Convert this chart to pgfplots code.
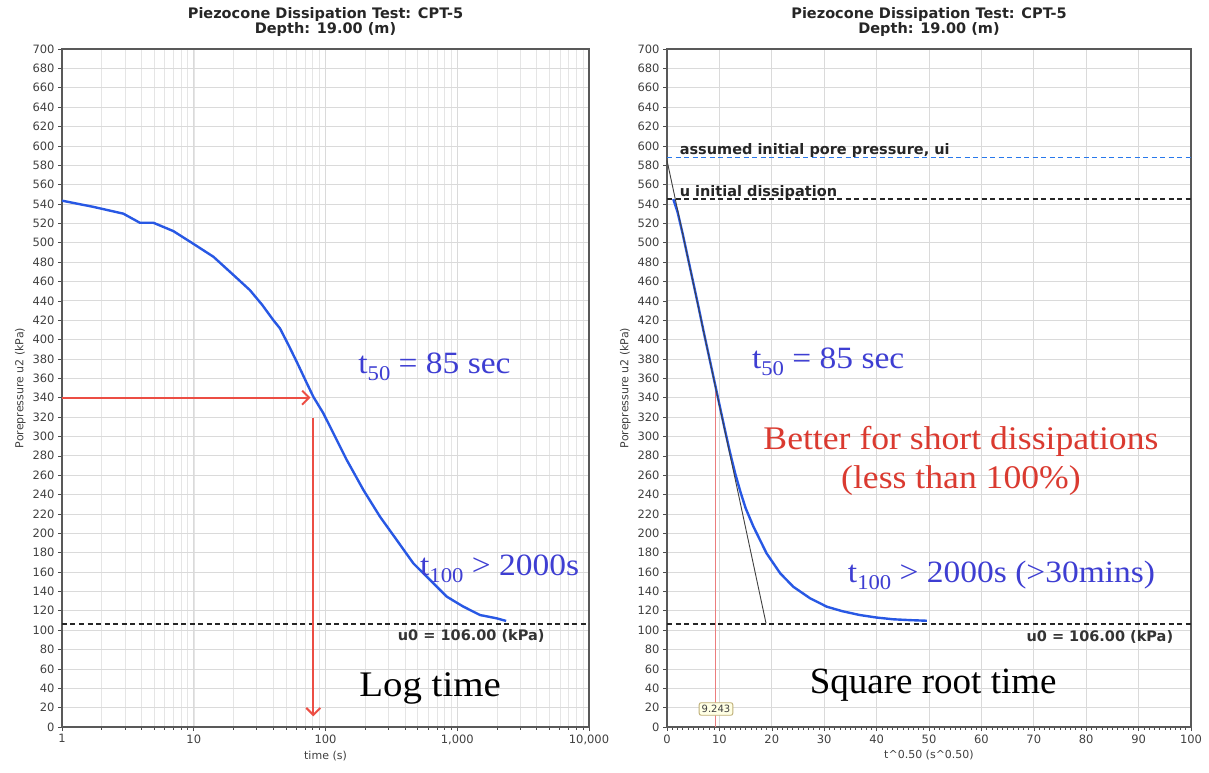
\documentclass[border=0pt]{standalone}
\usepackage{pgfplots}
\pgfplotsset{compat=1.18}
\usepackage{fontspec}
\setmainfont{DejaVu Sans}
\newfontfamily\tnr{Liberation Serif}
\usetikzlibrary{arrows.meta}

\definecolor{curveblue}{RGB}{40,88,228}
\definecolor{textblue}{RGB}{62,62,210}
\definecolor{arrowred}{RGB}{236,78,68}
\definecolor{textred}{RGB}{218,58,48}
\definecolor{gridgray}{RGB}{218,218,218}
\definecolor{dashblue}{RGB}{40,120,235}
\definecolor{pinkline}{RGB}{236,125,125}
\definecolor{boxborder}{RGB}{190,175,120}
\definecolor{boxfill}{RGB}{255,255,228}

\newcommand{\hs}[1]{\scalebox{1.08}[1]{#1}}
\newcommand{\sub}[1]{\raisebox{-7pt}{\fontsize{21}{21}\selectfont #1}}

\pgfplotsset{
  cpt/.style={
    scale only axis, height=678pt, ymin=0, ymax=700, ytick={0,20,...,700},
    tick align=outside, xtick pos=bottom, ytick pos=left,
    major tick length=4pt, minor tick length=2.5pt,
    axis line style={black!65, line width=1.2pt},
    tick style={black!70, line width=0.6pt},
    major grid style={gridgray, line width=0.7pt},
    minor grid style={gridgray!70, line width=0.5pt},
    tick label style={font=\fontsize{11.5}{12}\selectfont, text=black!75},
    /pgf/number format/assume math mode=true,
    /pgf/number format/1000 sep={},
    label style={font=\fontsize{11}{12}\selectfont, text=black!75},
    axis on top=false, clip=false,
  },
  dashln/.style={line width=1.9pt, dash pattern=on 5pt off 3.5pt},
}

\begin{document}
\begin{tikzpicture}[x=1pt,y=1pt]
\path[use as bounding box] (0,0) rectangle (1209,772);

% ---------------- Left: log time ----------------
\begin{axis}[cpt, at={(62pt,45pt)}, anchor=south west, width=527pt,
  xmode=log, xmin=1, xmax=10000, xtick={1,10,100,1000,10000},
  xticklabels={1,10,100,{1,000},{10,000}}, grid=both,
  xlabel={time (s)}, ylabel={Porepressure u2 (kPa)}]
\addplot[draw=black!85, dashln] coordinates {(1,106) (10000,106)};
\addplot[draw=curveblue, line width=2.4pt] coordinates {
(1,543.4) (1.73,537) (2.92,530) (3.9,520.6) (4.94,520.6) (7.0,512) (9.9,499)
(14.1,485.5) (20,466.7) (26.7,451) (33,436) (40.2,420) (45.1,411.6) (53,393) (62,374) (71,357) (80.8,341)
(96.2,324) (118,300) (145,275.7) (194,244.7) (259,217.2) (347,193.1) (464,169) (621,151.9)
(832,134.6) (1112,124.3) (1489,115.6) (1992,112.2) (2350,109.5)};
\addplot[draw=arrowred, color=arrowred, line width=2pt, -{Straight Barb[length=7pt,width=14pt]}] coordinates {(1,340) (77,340)};
\addplot[draw=arrowred, color=arrowred, line width=2pt, -{Straight Barb[length=7pt,width=14pt]}] coordinates {(80.8,319) (80.8,11)};
\node[anchor=west, inner sep=0, text=textblue, font=\tnr\fontsize{31}{31}\selectfont] at (axis cs:177,372) {\hs{t\sub{50} = 85 sec}};
\node[anchor=west, inner sep=0, text=textblue, font=\tnr\fontsize{31}{31}\selectfont] at (axis cs:521,163) {\hs{t\sub{100} > 2000s}};
\node[inner sep=0, text=black, font=\tnr\fontsize{36}{36}\selectfont] at (axis cs:622,40) {\hs{Log time}};
\node[inner sep=0, text=black!80, font=\bfseries\fontsize{14.5}{14.5}\selectfont] at (axis cs:1276,94) {u0 = 106.00 (kPa)};
\node[anchor=south, align=center, inner sep=0, text=black!85, font=\bfseries\fontsize{14.5}{15.5}\selectfont] at (rel axis cs:0.5,1) [yshift=12pt] {Piezocone Dissipation Test: CPT-5\\Depth: 19.00 (m)};
\end{axis}

% ---------------- Right: square root time ----------------
\begin{axis}[cpt, at={(667pt,45pt)}, anchor=south west, width=524pt,
  xmin=0, xmax=100, xtick={0,10,...,100}, minor x tick num=9, grid=major,
  xlabel={t\textasciicircum0.50 (s\textasciicircum0.50)}, ylabel={Porepressure u2 (kPa)}]
\addplot[draw=dashblue, dashln] coordinates {(0,588) (100,588)};
\addplot[draw=black!85, dashln] coordinates {(0,545) (100,545)};
\addplot[draw=black!85, dashln] coordinates {(0,106) (100,106)};
\addplot[draw=pinkline, line width=1.5pt] coordinates {(9.243,0) (9.243,347)};
\addplot[draw=curveblue, line width=2.4pt] coordinates {
(1.2,545) (2,532) (3,509) (4,484) (5,459) (6,434) (7,408) (8,383) (9,358)
(10,333) (11,308) (12,284) (13,262) (14,243) (15,226) (16.5,206.8) (19.0,179.3)
(21.6,158.7) (24.1,144.8) (27.3,132.9) (30.5,124.2) (33.5,119.5) (36.8,115.6)
(40,113) (43.2,111.2) (46.5,110.3) (49.6,109.7)};
\addplot[draw=black!75, line width=0.9pt] coordinates {(0,585) (18.9,107)};
\node[anchor=base west, inner sep=0, text=black!85, font=\bfseries\fontsize{14.5}{14.5}\selectfont] at (axis cs:2.4,591) {assumed initial pore pressure, ui};
\node[anchor=base west, inner sep=0, text=black!85, font=\bfseries\fontsize{14.5}{14.5}\selectfont] at (axis cs:2.4,548) {u initial dissipation};
\node[anchor=west, inner sep=0, text=textblue, font=\tnr\fontsize{31}{31}\selectfont] at (axis cs:16.2,377) {\hs{t\sub{50} = 85 sec}};
\node[inner sep=0, text=textred, font=\tnr\fontsize{33}{33}\selectfont] at (axis cs:56.1,295) {\scalebox{1.08}[1]{Better for short dissipations}};
\node[inner sep=0, text=textred, font=\tnr\fontsize{33}{33}\selectfont] at (axis cs:56.1,254) {\scalebox{1.08}[1]{(less than 100\%)}};
\node[anchor=west, inner sep=0, text=textblue, font=\tnr\fontsize{31}{31}\selectfont] at (axis cs:34.5,157) {\hs{t\sub{100} > 2000s (>30mins)}};
\node[inner sep=0, text=black, font=\tnr\fontsize{37}{37}\selectfont] at (axis cs:50.8,43) {Square root time};
\node[inner sep=0, text=black!80, font=\bfseries\fontsize{14.5}{14.5}\selectfont] at (axis cs:82.6,93) {u0 = 106.00 (kPa)};
\node[draw=boxborder, fill=boxfill, rounded corners=2pt, inner sep=2.5pt, line width=0.9pt, text=black!75, font=\fontsize{10}{10}\selectfont] at (axis cs:9.35,18.6) {9.243};
\node[anchor=south, align=center, inner sep=0, text=black!85, font=\bfseries\fontsize{14.5}{15.5}\selectfont] at (rel axis cs:0.5,1) [yshift=12pt] {Piezocone Dissipation Test: CPT-5\\Depth: 19.00 (m)};
\end{axis}
\end{tikzpicture}
\end{document}
